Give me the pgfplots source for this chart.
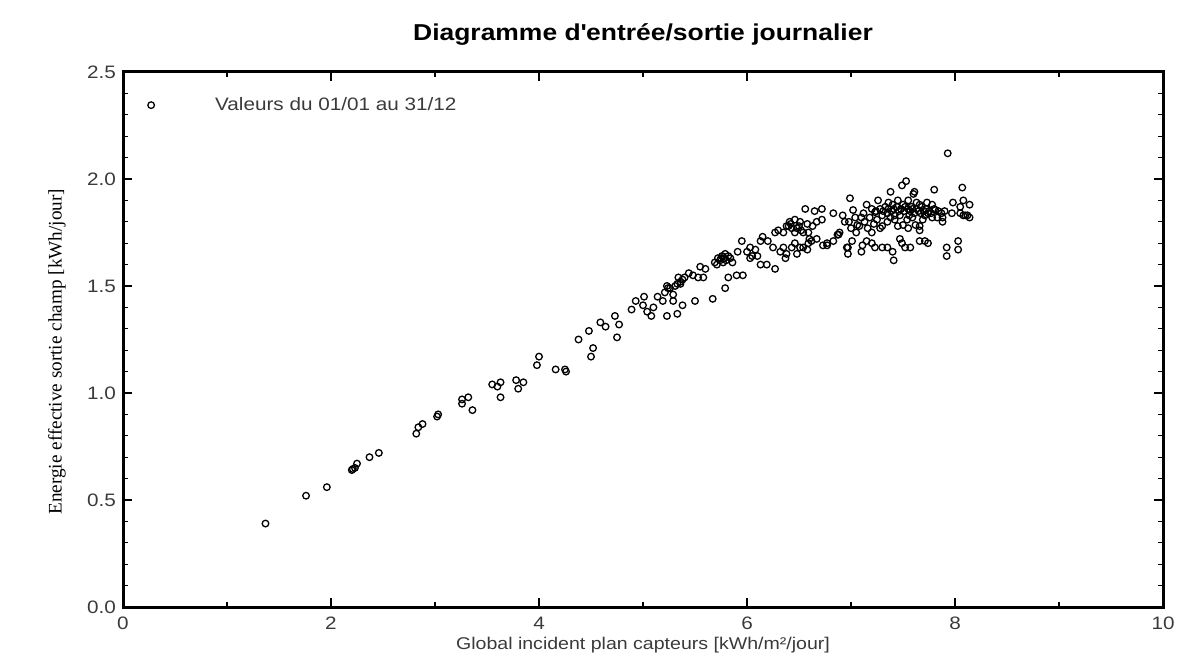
\documentclass[border=0pt]{standalone}
\usepackage{fontspec}
\setmainfont{Liberation Sans}[FakeStretch=1.15]
\newfontfamily\labelserif{Liberation Serif}
\usepackage{pgfplots}
\pgfplotsset{compat=1.18}

\definecolor{ticktext}{HTML}{3A3A3A}

\begin{document}
\begin{tikzpicture}
  \path[use as bounding box] (-61.5pt,-25pt) rectangle (539.5pt,303.5pt);
  \begin{axis}[%
    scale only axis,
    width=520pt, height=267.5pt,
    at={(0pt,0pt)}, anchor=south west,
    % x-axis
    xmin=0, xmax=10,
    xtick={0,2,4,6,8,10},
    minor x tick num=1,
    xlabel={Global incident plan capteurs [kWh/m²/jour]},
    xlabel style={at={(axis description cs:0.5,-0.071)}, anchor=center,
                  font=\fontsize{8.5}{10}\selectfont, text=ticktext},
    % y-axis
    ymin=0, ymax=2.5,
    ytick={0,0.5,1,1.5,2,2.5},
    minor y tick num=4,
    yticklabel style={/pgf/number format/.cd, fixed, fixed zerofill, precision=1},
    ylabel={Energie effective sortie champ [kWh/jour]},
    ylabel style={at={(axis description cs:-0.0635,0.477)}, anchor=center,
                  font=\labelserif\fontsize{9.6}{11}\selectfont},
    % look
    title={Diagramme d\textquotesingle entrée/sortie journalier},
    title style={at={(axis description cs:0.5,1)}, anchor=south, yshift=4pt,
                 font=\bfseries\fontsize{11.5}{13}\selectfont},
    /pgf/number format/assume math mode=true,
    every tick label/.append style={font=\fontsize{9}{10}\selectfont, text=ticktext},
    xticklabel style={yshift=-1.5pt},
    axis line style={line width=1.5pt},
    tick style={line width=0.6pt, black},
    major tick length=4.5pt,
    minor tick length=2.5pt,
    tick align=inside,
    legend style={at={(axis description cs:0.0235,0.938)}, anchor=west,
                  draw=none, fill=none, inner sep=0pt,
                  font=\fontsize{9}{10}\selectfont, text=ticktext},
    legend image code/.code={%
      \path[draw=none] (0pt,0pt) -- (30pt,0pt);
      \draw[#1] plot coordinates {(0pt,0pt)};},
    ]

    \addplot [only marks, mark=o, mark size=1.65pt, line width=0.65pt, black]
      table [row sep=\\] {
      x y \\
      1.37 0.39 \\ 1.76 0.52 \\ 1.96 0.56 \\ 2.20 0.64 \\ 2.21 0.645 \\
      2.23 0.65 \\ 2.25 0.67 \\ 2.37 0.70 \\ 2.46 0.72 \\ 2.82 0.81 \\
      2.84 0.84 \\ 2.88 0.855 \\ 3.02 0.89 \\ 3.03 0.90 \\ 3.26 0.95 \\
      3.26 0.97 \\ 3.32 0.98 \\ 3.36 0.92 \\ 3.55 1.04 \\ 3.60 1.03 \\
      3.63 1.05 \\ 3.63 0.98 \\ 3.78 1.06 \\ 3.85 1.05 \\ 3.80 1.02 \\
      3.98 1.13 \\ 4.00 1.17 \\ 4.16 1.11 \\ 4.25 1.11 \\ 4.26 1.10 \\
      4.38 1.25 \\ 4.48 1.29 \\ 4.50 1.17 \\ 4.52 1.21 \\ 4.59 1.33 \\
      4.64 1.31 \\ 4.73 1.36 \\ 4.77 1.32 \\ 4.75 1.26 \\ 4.89 1.39 \\
      4.93 1.43 \\ 5.01 1.45 \\ 5.00 1.41 \\ 5.04 1.38 \\ 5.10 1.40 \\
      5.08 1.36 \\ 5.14 1.45 \\ 5.19 1.43 \\ 5.21 1.47 \\ 5.24 1.49 \\
      5.26 1.49 \\ 5.29 1.46 \\ 5.29 1.43 \\ 5.33 1.51 \\ 5.23 1.36 \\
      5.33 1.37 \\ 5.38 1.41 \\ 5.23 1.50 \\ 5.31 1.50 \\ 5.36 1.51 \\
      5.38 1.53 \\ 5.34 1.54 \\ 5.36 1.52 \\ 5.40 1.54 \\ 5.44 1.56 \\
      5.50 1.43 \\ 5.67 1.44 \\ 5.79 1.49 \\ 5.48 1.55 \\ 5.53 1.54 \\
      5.58 1.54 \\ 5.55 1.59 \\ 5.60 1.58 \\ 5.69 1.61 \\ 5.72 1.63 \\
      5.76 1.64 \\ 5.79 1.65 \\ 5.82 1.64 \\ 5.77 1.61 \\ 5.86 1.61 \\
      5.74 1.62 \\ 5.75 1.63 \\ 5.78 1.63 \\ 5.80 1.62 \\ 5.84 1.63 \\
      5.71 1.60 \\ 5.82 1.54 \\ 5.90 1.55 \\ 5.96 1.55 \\ 5.91 1.66 \\
      5.95 1.71 \\ 6.00 1.66 \\ 6.03 1.68 \\ 6.05 1.64 \\ 6.08 1.67 \\
      6.10 1.64 \\ 6.03 1.63 \\ 6.13 1.60 \\ 6.19 1.60 \\ 6.27 1.58 \\
      6.13 1.71 \\ 6.15 1.73 \\ 6.20 1.71 \\ 6.25 1.68 \\ 6.32 1.66 \\
      6.35 1.68 \\ 6.38 1.65 \\ 6.37 1.63 \\ 6.27 1.75 \\ 6.30 1.76 \\
      6.35 1.75 \\ 6.38 1.78 \\ 6.43 1.77 \\ 6.46 1.75 \\ 6.43 1.68 \\
      6.46 1.70 \\ 6.48 1.65 \\ 6.51 1.68 \\ 6.54 1.68 \\ 6.58 1.67 \\
      6.59 1.70 \\ 6.59 1.75 \\ 6.63 1.78 \\ 6.41 1.80 \\ 6.46 1.81 \\
      6.51 1.80 \\ 6.58 1.79 \\ 6.40 1.78 \\ 6.42 1.79 \\ 6.48 1.77 \\
      6.50 1.78 \\ 6.52 1.76 \\ 6.60 1.72 \\ 6.62 1.71 \\ 6.56 1.86 \\
      6.65 1.85 \\ 6.72 1.86 \\ 6.83 1.84 \\ 6.54 1.75 \\ 6.67 1.72 \\
      6.73 1.69 \\ 6.77 1.70 \\ 6.83 1.71 \\ 6.87 1.74 \\ 6.67 1.80 \\
      6.72 1.81 \\
      7.93 2.12 \\ 7.49 1.97 \\ 7.53 1.99 \\ 7.38 1.94 \\ 7.60 1.93 \\
      7.61 1.94 \\ 7.80 1.95 \\ 8.07 1.96 \\ 6.99 1.91 \\ 7.15 1.88 \\
      7.26 1.90 \\ 7.36 1.89 \\ 7.45 1.90 \\ 7.55 1.90 \\ 7.63 1.89 \\
      7.73 1.89 \\ 7.68 1.87 \\ 7.78 1.88 \\ 7.81 1.855 \\ 7.98 1.89 \\
      8.08 1.90 \\ 8.14 1.88 \\ 8.05 1.87 \\ 7.97 1.84 \\ 8.05 1.84 \\
      8.10 1.83 \\ 8.14 1.82 \\ 8.12 1.83 \\ 8.08 1.83 \\ 6.92 1.83 \\
      6.94 1.80 \\ 7.02 1.855 \\ 7.04 1.82 \\ 7.06 1.785 \\ 7.12 1.84 \\
      7.13 1.80 \\ 7.18 1.82 \\ 7.23 1.845 \\ 7.25 1.81 \\ 7.30 1.78 \\
      7.35 1.80 \\ 7.38 1.82 \\ 7.42 1.81 \\ 7.47 1.83 \\ 7.50 1.785 \\
      7.54 1.81 \\ 7.59 1.82 \\ 7.62 1.785 \\ 7.66 1.78 \\ 7.69 1.81 \\
      7.74 1.84 \\ 7.78 1.82 \\ 7.83 1.82 \\ 7.88 1.80 \\ 7.88 1.82 \\
      7.20 1.86 \\ 7.24 1.85 \\ 7.28 1.86 \\ 7.31 1.85 \\ 7.33 1.87 \\
      7.36 1.86 \\ 7.39 1.85 \\ 7.41 1.86 \\ 7.44 1.87 \\ 7.46 1.85 \\
      7.48 1.86 \\ 7.51 1.85 \\ 7.52 1.87 \\ 7.55 1.86 \\ 7.57 1.85 \\
      7.59 1.86 \\ 7.61 1.84 \\ 7.63 1.86 \\ 7.65 1.85 \\ 7.67 1.84 \\
      7.70 1.85 \\ 7.72 1.86 \\ 7.75 1.85 \\ 7.77 1.84 \\ 7.80 1.86 \\
      7.84 1.85 \\ 7.87 1.84 \\ 7.90 1.85 \\ 7.40 1.88 \\ 7.50 1.88 \\
      7.58 1.87 \\ 7.66 1.88 \\ 7.42 1.83 \\ 7.56 1.83 \\ 7.71 1.83 \\
      7.30 1.83 \\ 7.35 1.84 \\
      6.77 1.69 \\ 6.88 1.74 \\ 6.96 1.68 \\ 6.97 1.68 \\ 7.01 1.71 \\
      7.11 1.69 \\ 7.15 1.71 \\ 7.20 1.70 \\ 7.23 1.68 \\ 7.30 1.68 \\
      7.35 1.68 \\ 7.40 1.66 \\ 7.47 1.72 \\ 7.49 1.70 \\ 7.52 1.68 \\
      7.57 1.68 \\ 7.66 1.71 \\ 7.71 1.71 \\ 7.74 1.70 \\ 7.92 1.68 \\
      8.03 1.71 \\ 7.28 1.77 \\ 7.45 1.78 \\ 7.55 1.77 \\ 7.66 1.76 \\
      6.89 1.75 \\ 7.41 1.62 \\ 7.92 1.64 \\ 8.03 1.67 \\ 6.97 1.65 \\
      7.10 1.66 \\ 7.00 1.77 \\ 7.05 1.75 \\ 7.08 1.78 \\ 6.98 1.80 \\
      7.10 1.82 \\ 7.16 1.77 \\ 7.20 1.75 \\ 7.22 1.79 \\
    };
    \addlegendentry{Valeurs du 01/01 au 31/12}
  \end{axis}
\end{tikzpicture}
\end{document}
